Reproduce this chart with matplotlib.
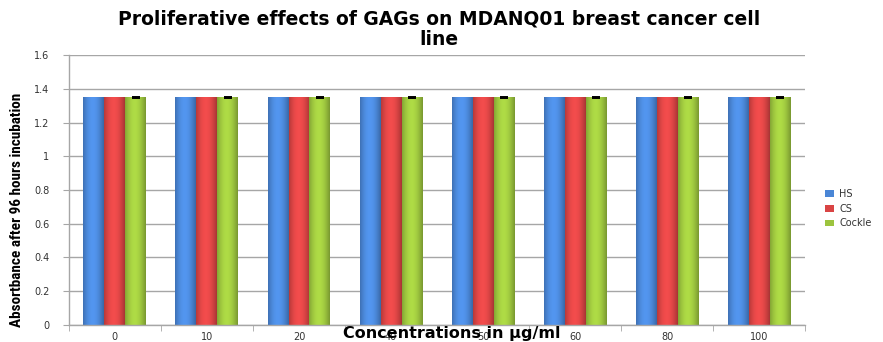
import numpy as np
import matplotlib
matplotlib.use("Agg")
import matplotlib.pyplot as plt
from matplotlib.colors import to_rgb
from matplotlib import font_manager

concentrations = ["0", "10", "20", "40", "50", "60", "80", "100"]
hs_values = [1.35, 1.35, 1.35, 1.35, 1.35, 1.35, 1.35, 1.35]
cs_values = [1.35, 1.35, 1.35, 1.35, 1.35, 1.35, 1.35, 1.35]
cockle_values = [1.35, 1.35, 1.35, 1.35, 1.35, 1.35, 1.35, 1.35]
cockle_err = [0.004, 0.004, 0.004, 0.004, 0.004, 0.004, 0.004, 0.004]

series = [
    ("HS", hs_values, "#4a86d6"),
    ("CS", cs_values, "#d94444"),
    ("Cockle", cockle_values, "#9cc43e"),
]

installed = {f.name for f in font_manager.fontManager.ttflist}
narrow = [f for f in ("Liberation Sans Narrow", "DejaVu Sans Condensed",
                      "Roboto Condensed") if f in installed]

fig = plt.figure(figsize=(8.83, 3.42), dpi=100)
ax = fig.add_axes([0.078, 0.050, 0.834, 0.789])

x = np.arange(len(concentrations)) + 0.5
width = 0.228


def shaded(bar, color):
    """Fill a bar with a horizontal cylinder-like gradient."""
    base = np.array(to_rgb(color))
    t = np.linspace(0, 1, 64)
    light = 0.55 + 0.45 * np.sin(np.pi * (0.15 + 0.75 * t))
    cols = np.clip(base[None, :] * light[:, None] * 1.12, 0, 1)
    img = cols[None, :, :]
    x0, y0 = bar.get_x(), bar.get_y()
    w, h = bar.get_width(), bar.get_height()
    im = ax.imshow(img, extent=[x0, x0 + w, y0, y0 + h], aspect="auto",
                   zorder=bar.get_zorder() + 0.1, interpolation="bilinear")
    im.set_clip_path(bar)


handles = []
for i, (name, vals, color) in enumerate(series):
    pos = x + (i - 1) * width
    bars = ax.bar(pos, vals, width=width, color=color, edgecolor="none",
                  zorder=2, label=name)
    for b in bars:
        shaded(b, color)
    handles.append(bars)

ax.errorbar(x + width, cockle_values, yerr=cockle_err, fmt="none",
            ecolor="black", elinewidth=0.8, capsize=2.8, capthick=1.4, zorder=4)

ax.set_xlim(0, len(concentrations))
ax.set_ylim(0, 1.6)
ax.set_yticks(np.arange(0, 1.61, 0.2))
ax.set_yticklabels(["0", "0.2", "0.4", "0.6", "0.8", "1", "1.2", "1.4", "1.6"])
ax.set_xticks(x)
ax.set_xticklabels(concentrations)
ax.set_xticks(np.arange(0, len(concentrations) + 1), minor=True)

ax.yaxis.grid(True, color="#a6a6a6", linewidth=1.0, zorder=0)
ax.set_axisbelow(True)
for s in ("top", "right"):
    ax.spines[s].set_visible(False)
for s in ("left", "bottom"):
    ax.spines[s].set_color("#a6a6a6")
    ax.spines[s].set_linewidth(1.0)

ax.tick_params(axis="y", length=4, color="#a6a6a6", labelsize=7,
               labelcolor="#333333", pad=10)
ax.tick_params(axis="x", which="major", length=0, labelsize=7,
               labelcolor="#333333", pad=5)
ax.tick_params(axis="x", which="minor", length=4, color="#a6a6a6")

fig.text(0.497, 0.915, "Proliferative effects of GAGs on MDANQ01 breast cancer cell\nline",
         ha="center", va="center", fontsize=13.5, fontweight="bold",
         linespacing=1.1, color="black")

if narrow:
    fig.text(0.019, 0.386, "Absortbance after 96 hours incubation", rotation=90,
             ha="center", va="center", fontsize=11, fontweight="bold",
             family=narrow + ["DejaVu Sans"], color="black")
else:
    fig.text(0.019, 0.386, "Absortbance after 96 hours incubation", rotation=90,
             ha="center", va="center", fontsize=7.8, fontweight="bold",
             color="black")

fig.text(0.512, 0.025, "Concentrations in \u03bcg/ml", ha="center", va="center",
         fontsize=11.5, fontweight="bold", color="black", zorder=5)

leg = fig.legend(handles=handles, labels=[s[0] for s in series],
                 loc="center left", bbox_to_anchor=(0.924, 0.39),
                 frameon=False, fontsize=7, handlelength=1.0,
                 handleheight=0.7, labelspacing=0.5, handletextpad=0.5)
for t in leg.get_texts():
    t.set_color("#333333")

fig.savefig("out.png", dpi=100)
